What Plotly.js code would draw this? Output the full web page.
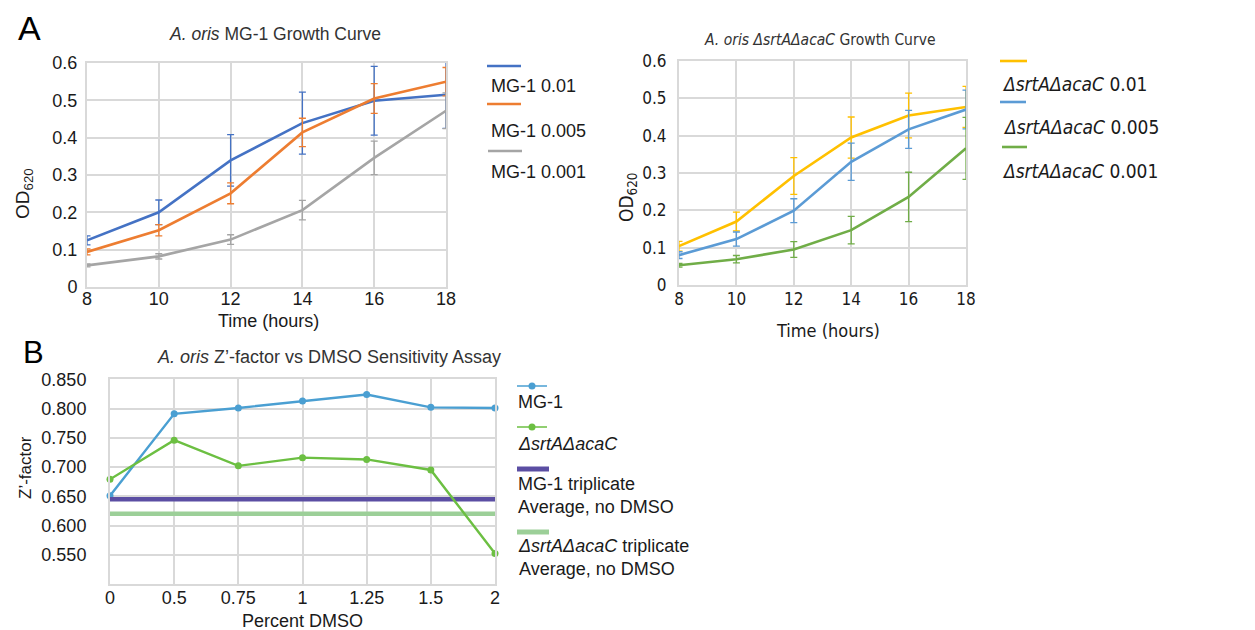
<!DOCTYPE html>
<html>
<head>
<meta charset="utf-8">
<script src="https://cdn.plot.ly/plotly-3.0.1.min.js"></script>
<style>html,body{margin:0;padding:0;background:#fff;}#chart{width:1255px;height:630px;}</style>
</head>
<body>
<div id="chart"></div>
<script>
// ---------- Data ----------
const hours = [8, 10, 12, 14, 16, 18];

const mg1_0p01      = [0.125, 0.200, 0.339, 0.439, 0.499, 0.515];
const mg1_0p01_err  = [0.012, 0.033, 0.069, 0.083, 0.092, 0.090];
const mg1_0p005     = [0.094, 0.152, 0.251, 0.414, 0.505, 0.550];
const mg1_0p005_err = [0.008, 0.015, 0.028, 0.038, 0.040, 0.038];
const mg1_0p001     = [0.058, 0.082, 0.127, 0.206, 0.346, 0.472];
const mg1_0p001_err = [0.004, 0.007, 0.013, 0.026, 0.045, 0.048];

const dko_0p01      = [0.104, 0.170, 0.292, 0.395, 0.454, 0.477];
const dko_0p01_err  = [0.013, 0.025, 0.049, 0.055, 0.060, 0.055];
const dko_0p005     = [0.080, 0.123, 0.199, 0.330, 0.417, 0.470];
const dko_0p005_err = [0.009, 0.019, 0.032, 0.050, 0.051, 0.052];
const dko_0p001     = [0.053, 0.069, 0.095, 0.147, 0.236, 0.366];
const dko_0p001_err = [0.005, 0.010, 0.021, 0.037, 0.066, 0.083];

const dmsoPercent = ['0', '0.5', '0.75', '1', '1.25', '1.5', '2'];
const zMG1 = [0.651, 0.791, 0.801, 0.813, 0.824, 0.802, 0.801];
const zDKO = [0.679, 0.746, 0.702, 0.716, 0.713, 0.695, 0.552];
const zMG1TriplicateAvg = 0.645;
const zDKOTriplicateAvg = 0.620;

const growthTicks = [0, 0.1, 0.2, 0.3, 0.4, 0.5, 0.6];
const growthTickText = ['0', '0.1', '0.2', '0.3', '0.4', '0.5', '0.6'];
const zTicks = [0.55, 0.60, 0.65, 0.70, 0.75, 0.80, 0.85];
const zTickText = ['0.550', '0.600', '0.650', '0.700', '0.750', '0.800', '0.850'];

// ---------- Helpers ----------
const W = 1255, H = 630;
const px = x => x / W;
const py = y => 1 - y / H;
const FONT = 'Liberation Sans, Arial, sans-serif';
const NARROW = 'Liberation Sans Narrow, Arial Narrow, DejaVu Sans Condensed, sans-serif';
const GRID = '#d9d9d9';
const TXT = '#1a1a1a';

const C = {
  blue: '#4472c4', orange: '#ed7d31', gray: '#a5a5a5',
  yellow: '#ffc000', lblue: '#5b9bd5', green: '#70ad47',
  zblue: '#4a9fd2', zgreen: '#6cbf42', purple: '#5b4ea3', lgreen: '#9ccf98'
};

function growthTrace(y, err, color, xa, ya) {
  return {
    type: 'scatter', mode: 'lines', x: hours, y: y, xaxis: xa, yaxis: ya,
    line: {color: color, width: 2.6}, cliponaxis: false, showlegend: false,
    error_y: {type: 'data', array: err, visible: true, color: color, thickness: 1.3, width: 3.5}
  };
}

const traces = [
  growthTrace(mg1_0p01, mg1_0p01_err, C.blue, 'x', 'y'),
  growthTrace(mg1_0p005, mg1_0p005_err, C.orange, 'x', 'y'),
  growthTrace(mg1_0p001, mg1_0p001_err, C.gray, 'x', 'y'),
  growthTrace(dko_0p01, dko_0p01_err, C.yellow, 'x2', 'y2'),
  growthTrace(dko_0p005, dko_0p005_err, C.lblue, 'x2', 'y2'),
  growthTrace(dko_0p001, dko_0p001_err, C.green, 'x2', 'y2'),
  {
    type: 'scatter', mode: 'lines+markers', xaxis: 'x3', yaxis: 'y3', showlegend: false, cliponaxis: false,
    x: dmsoPercent, y: zMG1, line: {color: C.zblue, width: 2.4}, marker: {color: C.zblue, size: 7}
  },
  {
    type: 'scatter', mode: 'lines', xaxis: 'x3', yaxis: 'y3', showlegend: false, cliponaxis: false,
    x: [dmsoPercent[0], dmsoPercent[dmsoPercent.length - 1]],
    y: [zMG1TriplicateAvg, zMG1TriplicateAvg], line: {color: C.purple, width: 4.5}
  },
  {
    type: 'scatter', mode: 'lines', xaxis: 'x3', yaxis: 'y3', showlegend: false, cliponaxis: false,
    x: [dmsoPercent[0], dmsoPercent[dmsoPercent.length - 1]],
    y: [zDKOTriplicateAvg, zDKOTriplicateAvg], line: {color: C.lgreen, width: 4.5}
  },
  {
    type: 'scatter', mode: 'lines+markers', xaxis: 'x3', yaxis: 'y3', showlegend: false, cliponaxis: false,
    x: dmsoPercent, y: zDKO, line: {color: C.zgreen, width: 2.4}, marker: {color: C.zgreen, size: 7}
  }
];

function growthX(domain, anchor, fam, size, standoff) {
  return {
    domain: domain, anchor: anchor, range: [8, 18], tickvals: hours, ticktext: hours.map(String),
    showgrid: true, gridcolor: GRID, gridwidth: 2, zeroline: false,
    showline: true, linecolor: GRID, linewidth: 2, mirror: true, ticks: '',
    ticklabelstandoff: standoff, tickfont: {family: fam, size: size, color: TXT}
  };
}
function growthY(domain, anchor, fam, size, standoff) {
  return {
    domain: domain, anchor: anchor, range: [0, 0.6], tickvals: growthTicks, ticktext: growthTickText,
    showgrid: true, gridcolor: GRID, gridwidth: 2, zeroline: false,
    showline: true, linecolor: GRID, linewidth: 2, mirror: true, ticks: '',
    ticklabelstandoff: standoff, tickfont: {family: fam, size: size, color: TXT}
  };
}

function ann(text, x, y, opts) {
  return Object.assign({
    text: text, xref: 'paper', yref: 'paper', x: px(x), y: py(y), showarrow: false,
    xanchor: 'center', yanchor: 'middle', font: {family: FONT, size: 17, color: TXT}
  }, opts || {});
}
function legLine(x0, x1, y, color, width) {
  return {type: 'line', xref: 'paper', yref: 'paper', x0: px(x0), x1: px(x1), y0: py(y), y1: py(y),
          line: {color: color, width: width}};
}
function legDot(x, y, color) {
  return {type: 'circle', xref: 'paper', yref: 'paper', x0: px(x - 3.5), x1: px(x + 3.5),
          y0: py(y + 3.5), y1: py(y - 3.5), fillcolor: color, line: {width: 0}};
}

const dk = '<i>ΔsrtAΔacaC</i>';

const annotations = [
  ann('A', 29, 28, {font: {family: FONT, size: 34, color: '#000'}}),
  ann('B', 33, 352, {font: {family: FONT, size: 31, color: '#000'}}),
  ann('<i>A. oris</i> MG-1 Growth Curve', 275, 34, {font: {family: FONT, size: 17.5, color: '#333'}}),
  ann('<i>A. oris</i> ' + dk + ' Growth Curve', 820, 40, {font: {family: NARROW, size: 15.5, color: '#333'}}),
  ann('<i>A. oris</i> Z’-factor vs DMSO Sensitivity Assay', 329, 357, {font: {family: FONT, size: 18, color: '#333'}}),
  ann('OD<sub>620</sub>', 24, 194, {textangle: -90, font: {family: FONT, size: 19, color: TXT}}),
  ann('OD<sub>620</sub>', 627, 198, {textangle: -90, font: {family: NARROW, size: 19, color: TXT}}),
  ann('Z’-factor', 25, 468, {textangle: -90, font: {family: FONT, size: 17, color: TXT}}),
  ann('Time (hours)', 268, 321, {font: {family: FONT, size: 18, color: TXT}}),
  ann('Time (hours)', 828, 330, {font: {family: NARROW, size: 18, color: TXT}}),
  ann('Percent DMSO', 302, 621, {font: {family: FONT, size: 18, color: TXT}}),
  // legend A left
  ann('MG-1 0.01', 489, 86, {xanchor: 'left', font: {family: FONT, size: 18, color: TXT}}),
  ann('MG-1 0.005', 489, 131, {xanchor: 'left', font: {family: FONT, size: 18, color: TXT}}),
  ann('MG-1 0.001', 489, 172, {xanchor: 'left', font: {family: FONT, size: 18, color: TXT}}),
  // legend A right
  ann(dk + ' 0.01', 1000, 84, {xanchor: 'left', font: {family: NARROW, size: 19, color: TXT}}),
  ann(dk + ' 0.005', 1001, 127, {xanchor: 'left', font: {family: NARROW, size: 19, color: TXT}}),
  ann(dk + ' 0.001', 1000, 171, {xanchor: 'left', font: {family: NARROW, size: 19, color: TXT}}),
  // legend B
  ann('MG-1', 516, 402, {xanchor: 'left', font: {family: FONT, size: 18, color: TXT}}),
  ann(dk, 516, 444, {xanchor: 'left', font: {family: FONT, size: 18, color: TXT}}),
  ann('MG-1 triplicate<br>Average, no DMSO', 516, 495, {xanchor: 'left', align: 'left', font: {family: FONT, size: 18, color: TXT}}),
  ann(dk + ' triplicate<br>Average, no DMSO', 516, 557, {xanchor: 'left', align: 'left', font: {family: FONT, size: 18, color: TXT}})
];

const shapes = [
  legLine(487, 521, 66, C.blue, 2.6),
  legLine(487, 521, 104, C.orange, 2.6),
  legLine(488, 522, 151, C.gray, 2.6),
  legLine(1000, 1027, 61, C.yellow, 2.6),
  legLine(1000, 1026, 102, C.lblue, 2.6),
  legLine(1002, 1027, 147, C.green, 2.6),
  legLine(517, 547, 386, C.zblue, 1.5), legDot(532, 386, C.zblue),
  legLine(517, 547, 427, C.zgreen, 1.5), legDot(532, 427, C.zgreen),
  legLine(517, 549, 469, C.purple, 5),
  legLine(517, 549, 532, C.lgreen, 5)
];

const layout = {
  width: W, height: H, margin: {l: 0, r: 0, t: 0, b: 0},
  paper_bgcolor: '#ffffff', plot_bgcolor: '#ffffff', showlegend: false,
  font: {family: FONT, color: TXT},
  xaxis: growthX([px(87), px(446)], 'y', FONT, 18, -6),
  yaxis: growthY([py(287), py(63)], 'x', FONT, 18, 4),
  xaxis2: growthX([px(679), px(966)], 'y2', NARROW, 17, -2),
  yaxis2: growthY([py(285), py(61)], 'x2', NARROW, 17, 7),
  xaxis3: {
    domain: [px(110), px(495)], anchor: 'y3', type: 'category', range: [0, 6],
    categoryorder: 'array', categoryarray: dmsoPercent,
    showgrid: true, gridcolor: GRID, gridwidth: 2, zeroline: false,
    showline: true, linecolor: GRID, linewidth: 2, mirror: true, ticks: '',
    ticklabelstandoff: -4, tickfont: {family: FONT, size: 18, color: TXT}
  },
  yaxis3: {
    domain: [py(584), py(379.3)], anchor: 'x3', range: [0.5, 0.85], tickvals: zTicks, ticktext: zTickText,
    showgrid: true, gridcolor: GRID, gridwidth: 2, zeroline: false,
    showline: true, linecolor: GRID, linewidth: 2, mirror: true, ticks: '',
    ticklabelstandoff: 18, tickfont: {family: FONT, size: 18, color: TXT}
  },
  annotations: annotations,
  shapes: shapes
};

Plotly.newPlot('chart', traces, layout, {staticPlot: true, displayModeBar: false});
</script>
</body>
</html>
